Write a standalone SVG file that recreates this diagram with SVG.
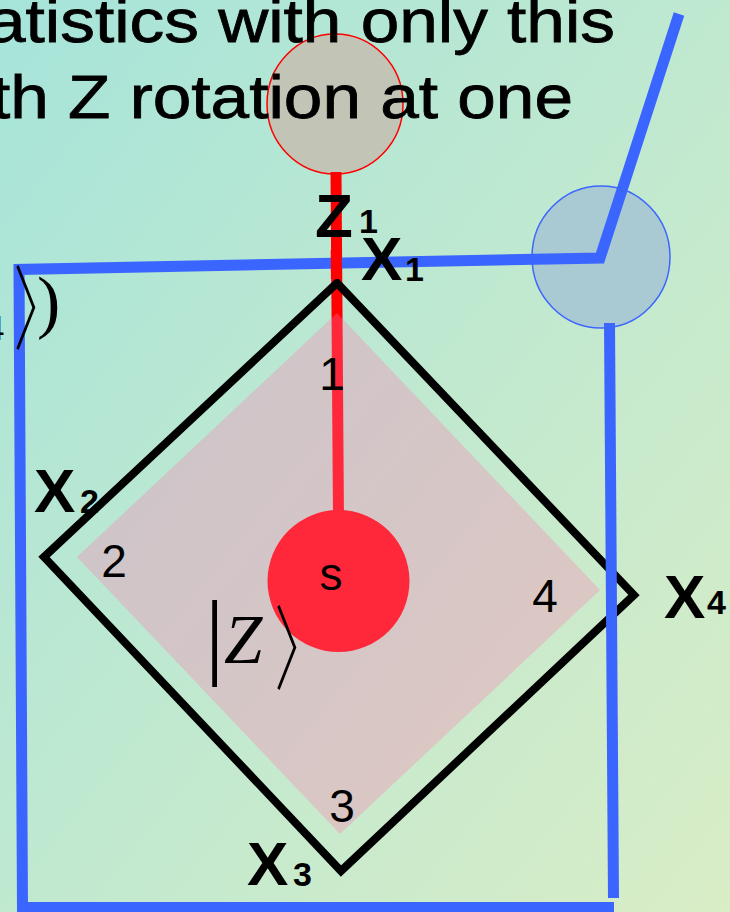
<svg xmlns="http://www.w3.org/2000/svg" width="730" height="912" viewBox="0 0 730 912">
  <defs>
    <linearGradient id="bg" x1="0" y1="0" x2="1" y2="1">
      <stop offset="0" stop-color="#a6e4da"/>
      <stop offset="1" stop-color="#d9edc6"/>
    </linearGradient>
    <style>
      .title { font-family: "Liberation Sans", Arial, sans-serif; font-size: 62px; fill: #000; stroke: #000; stroke-width: 0.8px; }
      .lbl { font-family: "Liberation Sans", Arial, sans-serif; font-weight: bold; fill: #000; }
      .big { font-size: 62px; }
      .sub { font-size: 34px; }
      .num { font-family: "Liberation Sans", Arial, sans-serif; font-size: 46px; fill: #000; text-anchor: middle; }
      .serif { font-family: "Liberation Serif", "Times New Roman", serif; fill: #000; }
      .cjk { font-family: "Noto Sans CJK JP", "Noto Sans CJK SC", sans-serif; font-weight: 200; font-size: 92px; fill: #000; }
      .blue { fill: none; stroke: #3a66ff; stroke-width: 11; stroke-linejoin: miter; }
      .red { fill: none; stroke: #ff0000; stroke-width: 11; }
    </style>
  </defs>

  <rect x="0" y="0" width="730" height="912" fill="url(#bg)"/>

  <g id="title">
    <ellipse id="circleZ" cx="335" cy="104" rx="68" ry="70" fill="#c2c5b5" stroke="#ff0000" stroke-width="1.5"/>
    <text class="title" x="-13" y="42" textLength="628" lengthAdjust="spacingAndGlyphs">atistics with only this</text>
    <text class="title" x="-9" y="118" textLength="582" lengthAdjust="spacingAndGlyphs">th Z rotation at one</text>
  </g>

  <g id="circleX">
    <ellipse cx="601" cy="257" rx="69" ry="71" fill="#a9c9d3" stroke="#3d66ff" stroke-width="1.5"/>
  </g>

  <g id="connectors">
    <line class="red" x1="336" y1="172" x2="338.5" y2="520"/>
  </g>

  <g id="s-node">
    <circle cx="338.5" cy="581" r="71" fill="#ff0000"/>
  </g>

  <g id="plaquette">
    <polygon points="337,313 77,557 340,834 600,590" fill="#ff7db4" fill-opacity="0.32"/>
    <polygon points="337,283 44,557 341,871 634,595" fill="none" stroke="#000" stroke-width="8" stroke-linejoin="miter"/>
  </g>

  <g id="blue-lines">
    <polyline class="blue" points="614,907.5 22.5,907.5 19,269.5 600,258 679,14"/>
    <line class="blue" x1="609.5" y1="323" x2="613.5" y2="898"/>
    <line class="red" x1="336.2" y1="250" x2="336.4" y2="279"/>
  </g>

  <g id="labels">
    <g id="label-Z1">
      <text class="lbl big" x="315" y="237">Z</text>
      <text class="lbl sub" x="359" y="233">1</text>
    </g>
    <g id="label-X1">
      <text class="lbl big" x="361" y="280">X</text>
      <text class="lbl sub" x="405" y="281">1</text>
    </g>
    <g id="label-X2">
      <text class="lbl big" x="34" y="512">X</text>
      <text class="lbl sub" x="80" y="513">2</text>
    </g>
    <g id="label-X3">
      <text class="lbl big" x="247" y="885">X</text>
      <text class="lbl sub" x="293" y="886">3</text>
    </g>
    <g id="label-X4">
      <text class="lbl big" x="664" y="618">X</text>
      <text class="lbl sub" x="707" y="614">4</text>
    </g>
  </g>

  <g id="numbers">
    <text class="num" x="332" y="390">1</text>
    <text class="num" x="114" y="577">2</text>
    <text class="num" x="342" y="822">3</text>
    <text class="num" x="545" y="612">4</text>
    <text class="num" x="331" y="590" font-size="42">s</text>
  </g>

  <g id="ket">
    <text class="serif" x="205" y="667" font-size="96">|</text>
    <text class="serif" x="224" y="663" font-size="69" font-style="italic">Z</text>
    <text class="cjk" transform="translate(274.5,683) scale(0.6,1)">〉</text>
  </g>

  <g id="left-fragment">
    <text class="serif" x="-14" y="340" font-size="36">4</text>
    <text class="cjk" transform="translate(13.5,343) scale(0.6,1)">〉</text>
    <text class="serif" x="37" y="325" font-size="70">)</text>
  </g>
</svg>
